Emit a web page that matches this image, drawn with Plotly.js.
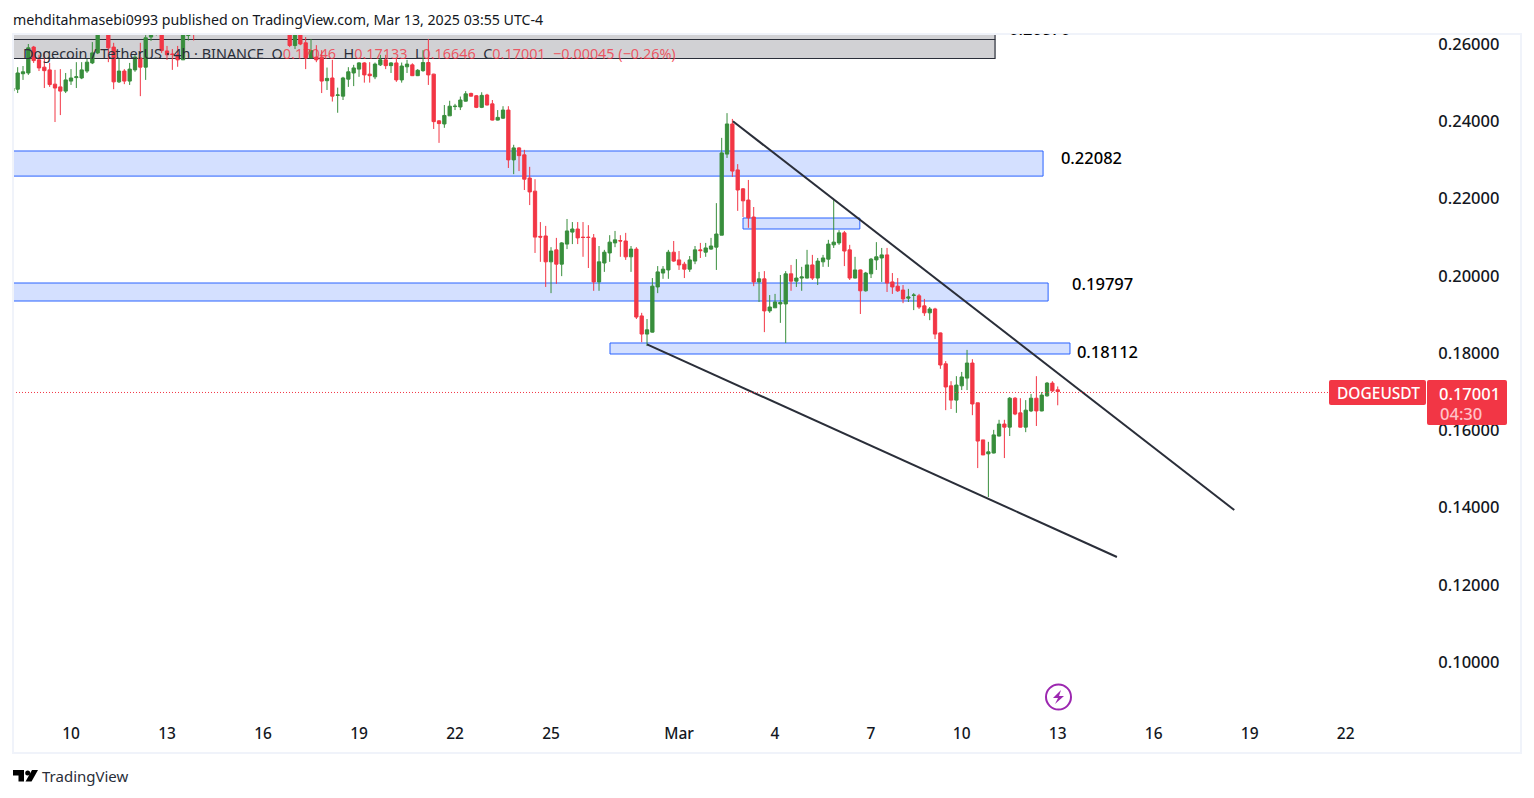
<!DOCTYPE html>
<html>
<head>
<meta charset="utf-8">
<script src="https://cdn.plot.ly/plotly-3.0.1.min.js"></script>
<style>html,body{margin:0;padding:0;background:#fff;overflow:hidden}#chart{width:1534px;height:798px}</style>
</head>
<body>
<div id="chart"></div>
<script>
// 4h bars. The first bar is index -11 (Feb 10 = bar 0).
const firstBar = -11;
const opens = [
.2478,.2483,.2523,.2525,.2592,.2559,.2540,.2533,.2496,.2489,.2478,.2504,.2513,.2512,.2530,.2551,.2577,.2634,.2641,.2592,.2502,.2530,.2504,.2533,.2564,.2540,.2618,.2636,.2641,.2582,.2574,.2572,.2559,.2622,.2634,
.2640,.2670,.2685,.2668,.2710,.2735,.2760,.2750,.2728,.2715,.2740,.2725,.2700,.2680,.2660,.2650,.2660,
.2634,.2596,.2636,.2603,.2564,.2566,.2566,.2505,.2512,.2467,.2465,.2509,.2525,.2535,.2551,.2522,.2515,.2546,.2559,.2544,.2551,.2507,.2541,.2546,.2518,.2531,.2552,.2522,.2401,.2393,.2414,.2438,.2437,.2452,.2472,.2466,.2436,.2468,.2445,.2403,.2408,
.2429,.2300,.2331,.2313,.2253,.2219,.2102,.2103,.2036,.2067,.2030,.2082,.2113,.2121,.2100,.2100,.2098,.1984,.2033,.2059,.2085,.2091,.2090,.2049,.2069,.1896,.1849,.1854,.1971,.2007,.2015,.2061,.2041,.2030,.2017,.2038,.2067,.2061,.2069,.2074,.2105,.2315,.2393,.2274,.2225,.2196,.2152,.1984,.1992,.1909,.1917,.1927,.1927,.2005,.1986,.1994,.1994,.2028,.1994,.2036,.2043,.2080,.2085,.2111,.2067,.1994,.2015,.1961,.2005,.2041,.2046,.2054,.1984,.1973,.1963,.1942,.1949,.1948,.1922,.1904,.1914,.1852,.1772,.1715,.1678,.1715,.1735,.1774,.1671,.1575,.1539,.1541,.1585,.1616,.1608,.1683,.1645,.1608,.1650,.1683,.1650,.1689,.1722,.17046];
const highs = [
.2491,.2540,.2543,.2600,.2595,.2572,.2577,.2551,.2533,.2535,.2525,.2535,.2553,.2553,.2561,.2605,.2644,.2657,.2652,.2603,.2564,.2535,.2551,.2572,.2603,.2623,.2641,.2652,.2652,.2595,.2587,.2595,.2631,.2626,.2641,
.2680,.2695,.2700,.2720,.2750,.2770,.2790,.2765,.2745,.2750,.2760,.2735,.2715,.2690,.2675,.2668,.2680,
.2641,.2639,.2641,.2618,.2613,.2597,.2584,.2539,.2559,.2487,.2515,.2540,.2546,.2553,.2553,.2553,.2552,.2572,.2572,.2553,.2564,.2552,.2559,.2550,.2535,.2584,.2613,.2523,.2403,.2442,.2453,.2445,.2464,.2478,.2474,.2468,.2475,.2471,.2455,.2429,.2439,
.2439,.2339,.2333,.2326,.2282,.2250,.2139,.2129,.2074,.2098,.2087,.2147,.2139,.2139,.2139,.2131,.2108,.2077,.2067,.2105,.2116,.2105,.2111,.2077,.2074,.1904,.1888,.1994,.2025,.2025,.2067,.2090,.2064,.2036,.2051,.2077,.2085,.2085,.2098,.2188,.2357,.2421,.2406,.2289,.2227,.2248,.2178,.2010,.2012,.1950,.1953,.2002,.2012,.2028,.2043,.2023,.2067,.2054,.2046,.2054,.2093,.2199,.2118,.2116,.2080,.2049,.2016,.2010,.2046,.2087,.2072,.2072,.2007,.1994,.1976,.1966,.1955,.1953,.1940,.1919,.1917,.1853,.1779,.1727,.1740,.1751,.1808,.1784,.1671,.1575,.1570,.1601,.1627,.1627,.1686,.1686,.1683,.1678,.1694,.1740,.1699,.1725,.1727,.17133];
const lows = [
.2473,.2473,.2507,.2520,.2551,.2530,.2486,.2489,.2398,.2416,.2473,.2494,.2486,.2509,.2525,.2548,.2574,.2628,.2553,.2483,.2499,.2496,.2494,.2528,.2465,.2507,.2608,.2622,.2577,.2559,.2533,.2541,.2559,.2609,.2609,
.2632,.2655,.2660,.2662,.2700,.2720,.2745,.2720,.2700,.2705,.2715,.2690,.2670,.2650,.2640,.2636,.2640,
.2592,.2587,.2597,.2535,.2564,.2553,.2473,.2481,.2451,.2422,.2455,.2489,.2491,.2515,.2500,.2500,.2509,.2543,.2535,.2525,.2502,.2500,.2525,.2517,.2517,.2528,.2494,.2380,.2344,.2383,.2414,.2429,.2429,.2451,.2464,.2434,.2434,.2441,.2402,.2402,.2406,
.2279,.2263,.2271,.2222,.2183,.2059,.2036,.1971,.1955,.1979,.1999,.2069,.2082,.2082,.2049,.2020,.1961,.1961,.2010,.2036,.2074,.2049,.2041,.2010,.1888,.1828,.1818,.1853,.1955,.1992,.1992,.2036,.2015,.1994,.2010,.2030,.2046,.2049,.2067,.2015,.2105,.2305,.2256,.2168,.2152,.2124,.1973,.1932,.1854,.1904,.1917,.1878,.1826,.1961,.1971,.1961,.1993,.1989,.1976,.2023,.2023,.2072,.2080,.2025,.1989,.1993,.1901,.1959,.1994,.2015,.1984,.1958,.1953,.1958,.1929,.1932,.1911,.1914,.1896,.1885,.1836,.1759,.1652,.1655,.1645,.1704,.1704,.1639,.1502,.1536,.1427,.1540,.1584,.1528,.1585,.1639,.1607,.1595,.1647,.1611,.1649,.1687,.1699,.16646];
const closes = [
.2486,.2525,.2528,.2590,.2557,.2538,.2531,.2495,.2486,.2478,.2507,.2512,.2515,.2533,.2553,.2577,.2631,.2649,.2590,.2502,.2530,.2504,.2535,.2566,.2540,.2616,.2628,.2644,.2583,.2572,.2573,.2559,.2623,.2624,.2628,
.2670,.2685,.2668,.2710,.2735,.2760,.2750,.2728,.2715,.2740,.2725,.2700,.2680,.2660,.2650,.2660,.2650,
.2596,.2634,.2600,.2564,.2583,.2559,.2504,.2511,.2465,.2468,.2512,.2528,.2538,.2551,.2520,.2518,.2548,.2559,.2544,.2551,.2507,.2543,.2548,.2518,.2532,.2552,.2520,.2399,.2394,.2415,.2439,.2439,.2455,.2471,.2465,.2436,.2467,.2442,.2403,.2410,.2429,
.2300,.2331,.2311,.2250,.2217,.2100,.2100,.2036,.2064,.2030,.2085,.2116,.2121,.2098,.2099,.2099,.1984,.2036,.2061,.2087,.2093,.2090,.2049,.2069,.1893,.1849,.1860,.1973,.2010,.2017,.2061,.2038,.2028,.2017,.2041,.2067,.2065,.2072,.2077,.2108,.2318,.2393,.2271,.2222,.2194,.2150,.1984,.1992,.1909,.1919,.1932,.1931,.2005,.1986,.1994,.1997,.2028,.1994,.2038,.2046,.2082,.2087,.2111,.2064,.1994,.2015,.1961,.2007,.2043,.2049,.2054,.1981,.1971,.1961,.1940,.1945,.1950,.1919,.1904,.1914,.1849,.1769,.1712,.1678,.1717,.1738,.1774,.1668,.1572,.1536,.1544,.1588,.1616,.1608,.1683,.1642,.1608,.1652,.1683,.1650,.1691,.1722,.1702,.17001];

const tickBars = [0,18,36,54,72,90,114,132,150,167,185,203,221,239];
const tickLabels = ["10","13","16","19","22","25","Mar","4","7","10","13","16","19","22"];
const priceTicks = [0.10,0.12,0.14,0.16,0.18,0.20,0.22,0.24,0.26];

// name, first bar, last bar, top price, bottom price
const zoneNames = ["upper","middle","lower","small"];
const zoneStart = [-12,-12,101.06,126];
const zoneEnd   = [182.25,183.2,187.3,147.9];
const zoneTop   = [0.2323,0.19812,0.18259,0.21495];
const zoneBottom= [0.2258,0.19346,0.17974,0.2121];
const levelTexts  = ["0.22082","0.19797","0.18112"];
const levelBars   = [185.6,187.7,188.6];
const levelPrices = [0.22998,0.19734,0.17974];
const clippedLevelText = "0.26870";
const clippedLevelBar = 175.7;
const upperLineBars = [124.1,218.1];
const upperLinePrices = [0.24,0.13935];
const lowerLineBars = [108,196.1];
const lowerLinePrices = [0.18223,0.12718];
const lastPrice = 0.17001;

const bars = opens.map((_, i) => firstBar + i);

const W = 1534, H = 798, L = 13, R = 1430, T = 34, B = 720;
const px = x => (x - L) / (R - L);
const py = y => 1 - (y - T) / (B - T);
const FONT = '"Noto Sans", sans-serif';
const RED = '#f23645', GREEN = '#388e3c', INK = '#131722';
const pathOf = pts => pts.map(s => typeof s === 'string' ? s : px(s[0]) + ',' + py(s[1])).join(' ');

const roundRect = (x0,y0,x1,y1,r) => pathOf(['M',[x0+r,y0],'L',[x1-r,y0],'Q',[x1,y0],[x1,y0+r],'L',[x1,y1-r],'Q',[x1,y1],[x1-r,y1],'L',[x0+r,y1],'Q',[x0,y1],[x0,y1-r],'L',[x0,y0+r],'Q',[x0,y0],[x0+r,y0],'Z']);

const shapes = [];
// grey legend band
shapes.push({type:'rect',layer:'below',xref:'x',yref:'paper',x0:-12,x1:173.25,y0:py(39.5),y1:py(34),fillcolor:'#d1d1d4',line:{width:0}});
shapes.push({type:'line',layer:'below',xref:'x',yref:'paper',x0:173.25,x1:173.25,y0:py(39.5),y1:py(34),line:{color:'#2a2e39',width:1.2}});
shapes.push({type:'rect',layer:'below',xref:'x',yref:'paper',x0:-12,x1:173.25,y0:py(58.5),y1:py(39.5),fillcolor:'#d1d1d4',line:{color:'#2a2e39',width:1.2}});
zoneNames.forEach((n,i)=>shapes.push({type:'rect',name:n,layer:'below',xref:'x',yref:'y',x0:zoneStart[i],x1:zoneEnd[i],y0:zoneBottom[i],y1:zoneTop[i],fillcolor:'rgba(41,98,255,0.2)',line:{color:'#2962ff',width:1}}));
// trend lines
shapes.push({type:'line',xref:'x',yref:'y',x0:upperLineBars[0],x1:upperLineBars[1],y0:upperLinePrices[0],y1:upperLinePrices[1],line:{color:'#2a2e39',width:2}});
shapes.push({type:'line',xref:'x',yref:'y',x0:lowerLineBars[0],x1:lowerLineBars[1],y0:lowerLinePrices[0],y1:lowerLinePrices[1],line:{color:'#2a2e39',width:2}});
// last price line
shapes.push({type:'line',xref:'paper',yref:'y',ysizemode:'pixel',yanchor:lastPrice,x0:0,x1:px(1329),y0:-0.9,y1:-0.9,line:{color:RED,width:1,dash:'1px,2px'}});
// price labels
shapes.push({type:'path',xref:'paper',yref:'paper',path:roundRect(1329,380,1426,405,2),fillcolor:RED,line:{width:0}});
shapes.push({type:'path',xref:'paper',yref:'paper',path:roundRect(1427,380,1507,425,2),fillcolor:RED,line:{width:0}});
// panel frame
shapes.push({type:'rect',xref:'paper',yref:'paper',x0:px(13),x1:px(1521),y0:py(753),y1:py(34),line:{color:'#f0f3fa',width:2},fillcolor:'rgba(0,0,0,0)'});
// lightning badge
shapes.push({type:'circle',xref:'paper',yref:'paper',x0:px(1046),x1:px(1071),y0:py(709.5),y1:py(684.5),line:{color:'#9c27b0',width:2},fillcolor:'#fff'});
shapes.push({type:'path',xref:'paper',yref:'paper',path:pathOf(['M',[1061,690],'L',[1053,698],'L',[1058,698],'L',[1055,704],'L',[1064,696],'L',[1059,696],'Z']),fillcolor:'#9c27b0',line:{width:0}});
// TradingView logo
shapes.push({type:'path',xref:'paper',yref:'paper',path:pathOf(['M',[13,770],'L',[24,770],'L',[24,781.5],'L',[18.5,781.5],'L',[18.5,775.5],'L',[13,775.5],'Z']),fillcolor:'#000',line:{width:0}});
shapes.push({type:'circle',xref:'paper',yref:'paper',x0:px(25.2),x1:px(30.2),y0:py(775.5),y1:py(770.5),fillcolor:'#000',line:{width:0}});
shapes.push({type:'path',xref:'paper',yref:'paper',path:pathOf(['M',[32,770],'L',[38,770],'L',[31.5,781.5],'L',[25.5,781.5],'Z']),fillcolor:'#000',line:{width:0}});

const note = (x,y,text,size,color,anchor,weight) => ({xref:'paper',yref:'paper',x:px(x),y:py(y),text:text,showarrow:false,xanchor:anchor||'left',yanchor:'middle',font:{family:FONT,size:size,color:color,weight:weight||400},borderpad:0});
const r = s => '<span style="color:rgba(242,54,69,0.8)">'+s+'</span>';
const annotations = [
  note(12,19.5,'mehditahmasebi0993 published on TradingView.com, Mar 13, 2025 03:55 UTC-4',14.2,INK),
  note(22,54,'Dogecoin / TetherUS · 4h · BINANCE  O'+r('0.17046')+'  H'+r('0.17133')+'  L'+r('0.16646')+'  C'+r('0.17001')+'  '+r('−0.00045 (−0.26%)'),14.4,'#2a2e39'),
  note(1378,393,'DOGEUSDT',15.5,'#fff','center',500),
  note(1469.5,393,'0.17001',16.5,'#fff','center',500),
  note(1461,413,'04:30',16.5,'#ffc2c8','center',500),
  note(41,776.5,'TradingView',15,'#2a2e39'),
  // level label cut off by the top of the chart: only the foot of its digits shows
  {xref:'x',yref:'paper',x:clippedLevelBar,y:py(33.5),xanchor:'left',yanchor:'top',width:70,height:6,align:'left',valign:'bottom',borderpad:0,showarrow:false,
   text:clippedLevelText,font:{family:FONT,size:16.5,color:'#000',weight:500}}
];

const traces = [
 {type:'candlestick',x:bars,open:opens,high:highs,low:lows,close:closes,whiskerwidth:0,
  increasing:{line:{color:GREEN,width:1},fillcolor:GREEN},
  decreasing:{line:{color:RED,width:1},fillcolor:RED},showlegend:false,hoverinfo:'skip'},
 {type:'scatter',mode:'text',x:levelBars,y:levelPrices,text:levelTexts,textposition:'middle right',cliponaxis:true,
  textfont:{family:FONT,size:16.5,color:'#000',weight:500},showlegend:false,hoverinfo:'skip'}
];

const layout = {
 width:W,height:H,margin:{l:L,r:W-R,t:T,b:H-B,pad:0},
 paper_bgcolor:'#fff',plot_bgcolor:'#fff',showlegend:false,boxgap:0.12,
 font:{family:FONT,color:INK},
 xaxis:{type:'linear',range:[-10.875,254.8],rangeslider:{visible:false},tickmode:'array',tickvals:tickBars,ticktext:tickLabels,
   showgrid:false,zeroline:false,showline:false,ticks:'',ticklabelstandoff:2,tickfont:{family:FONT,size:15.5,color:INK,weight:500}},
 yaxis:{type:'linear',side:'right',range:[0.08498,0.26259],tickmode:'array',tickvals:priceTicks,ticktext:priceTicks.map(v=>v.toFixed(5)),
   showgrid:false,zeroline:false,showline:false,ticks:'outside',ticklen:4,tickcolor:'rgba(0,0,0,0)',ticklabelshift:0.5,tickfont:{family:FONT,size:16.5,color:INK,weight:500}},
 shapes:shapes,annotations:annotations
};
Plotly.newPlot('chart',traces,layout,{displayModeBar:false,staticPlot:true});
</script>
</body>
</html>
